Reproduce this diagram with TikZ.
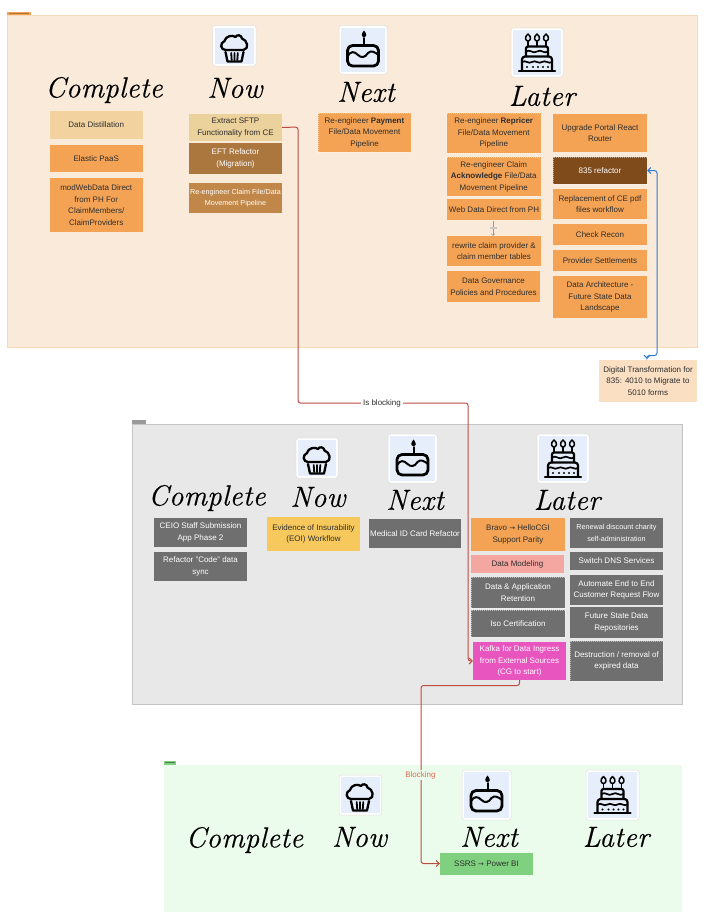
\documentclass[tikz,border=0pt]{standalone}
\usepackage{fontspec}
\setmainfont{Liberation Sans}
\newfontfamily\handfont[LetterSpace=1,FakeBold=0.4]{Latin Modern Roman}
\newfontfamily\symfont{DejaVu Sans}
\usetikzlibrary{arrows.meta}
\definecolor{frameA}{HTML}{FAEAD9}\definecolor{frameAb}{HTML}{F6D9B8}
\definecolor{frameB}{HTML}{E8E8E8}\definecolor{frameBb}{HTML}{C4C4C4}
\definecolor{frameC}{HTML}{ECFCEC}
\definecolor{orangeb}{HTML}{F4A355}\definecolor{sand}{HTML}{F2D3A0}\definecolor{sandb}{HTML}{EBD19B}
\definecolor{brownA}{HTML}{AB773F}\definecolor{brownB}{HTML}{C08748}\definecolor{brownC}{HTML}{7F4B1B}
\definecolor{peach}{HTML}{FADFC3}\definecolor{grayb}{HTML}{6F6F6F}\definecolor{yellowb}{HTML}{F7C95C}
\definecolor{pinkb}{HTML}{F4A6A0}\definecolor{magb}{HTML}{E855BE}\definecolor{greenb}{HTML}{7FD17F}
\definecolor{redline}{HTML}{BE4B40}\definecolor{blueline}{HTML}{2F7CD6}\definecolor{iconbg}{HTML}{E6EEFC}
\definecolor{ink}{HTML}{2E2E2E}\definecolor{blockt}{HTML}{E0694A}
\tikzset{
  x=1pt,y=-1pt,
  >={Straight Barb[length=3.2pt,width=6pt]},
  card/.style={rectangle,minimum width=0pt,inner sep=0pt,font=\fontsize{8}{11.5}\selectfont,align=center,text=ink},
  hand/.style={inner sep=0pt,text=black,font=\handfont\itshape\fontsize{29}{29}\selectfont},
  frame/.style={line width=.6pt},
  link/.style={redline,line width=1pt,rounded corners=2.5pt},
  bluelink/.style={blueline,line width=1pt,rounded corners=2.5pt},
  icn/.style={line width=2pt,black,line join=round,line cap=round},
}
% box: name, x0, y0, x1, y1, fill, text colour, text
\newcommand{\bx}[8]{\path[fill=#6] (#2,#3) rectangle (#4,#5);
  \node[card,text=#7] (#1) at ({(#2+#4)/2},{(#3+#5)/2}) {#8};
  \coordinate (#1-r) at (#4,{(#3+#5)/2});\coordinate (#1-l) at (#2,{(#3+#5)/2});
  \coordinate (#1-t) at ({(#2+#4)/2},#3);\coordinate (#1-b) at ({(#2+#4)/2},#5);}
\newcommand{\dbx}[8]{\bx{#1}{#2}{#3}{#4}{#5}{#6}{#7}{#8}
  \draw[white,opacity=.5,line width=.5pt,dash pattern=on 1pt off 1pt] (#2,#3) rectangle (#4,#5);}
\newcommand{\arr}{{\symfont\fontsize{7}{11.5}\selectfont →}}
\newcommand{\sm}{\fontsize{7.2}{10.4}\selectfont}
% icon frame: x0,y0,x1,y1
\newcommand{\iconframe}[4]{\path[fill=white,draw=black!12,line width=.5pt,rounded corners=2.5pt] (#1,#2) rectangle (#3,#4);
  \path[fill=iconbg] ({#1+2},{#2+2}) rectangle ({#3-2},{#4-2});}
% cupcake centred at (#1,#2), scale #3
\newcommand{\cupcake}[3]{\begin{scope}[shift={(#1,#2)},scale=#3]
  \draw[icn,line width=2.3pt] (-9,4) .. controls (-14,4) and (-15,-3) .. (-10,-5) .. controls (-9,-10) and (-2,-11.5) .. (1,-9) .. controls (2,-11.5) and (7,-11.5) .. (7.5,-7.5) .. controls (13,-6) and (15,3) .. (9,4) -- cycle;
  \draw[icn,line width=2.3pt] (-9,6) -- (-7,15.5) -- (7,15.5) -- (9,6);
  \draw[icn,line width=1.8pt] (-3.3,7) -- (-2.8,14) (0,7) -- (0,14) (3.3,7) -- (2.8,14);
\end{scope}}
% one-candle cake
\newcommand{\cakeone}[3]{\begin{scope}[shift={(#1,#2)},scale=#3]
  \draw[icn,line width=2.8pt,rounded corners=5pt] (-15.5,16) -- (-15.5,-4.5) -- (15.5,-4.5) -- (15.5,16) -- cycle;
  \draw[icn,line width=2pt] (-15.5,6) .. controls (-12,1) and (-9,1) .. (-5,5) .. controls (-2,8) and (2,8) .. (5,3) .. controls (8,0) and (12,2) .. (15.5,5);
  \draw[icn,line width=2pt] (1,-4) -- (1,-12);
  \fill[black] (1,-19.5) .. controls (-2.5,-15.5) and (-1.5,-13) .. (1,-13) .. controls (3.5,-13) and (4.5,-15.5) .. (1,-19.5);
\end{scope}}
% three-candle cake
\newcommand{\cakethree}[3]{\begin{scope}[shift={(#1,#2)},scale=#3]
  \draw[icn,line width=2.2pt] (-18,18.3) -- (18,18.3);
  \draw[icn,line width=2.2pt,rounded corners=3pt] (-15,18) -- (-15,4) -- (15,4) -- (15,18);
  \draw[icn,line width=1.7pt] (-15,9.5) .. controls (-11,7) and (-9,12) .. (-5,9.5) .. controls (-2,7) and (2,12) .. (5,9.5) .. controls (8,7) and (12,12) .. (15,9.5);
  \draw[icn,line width=2.2pt,rounded corners=2pt] (-11,4) -- (-11,-6) -- (11,-6) -- (11,4);
  \draw[icn,line width=1.7pt] (-11,-1) .. controls (-7,-4) and (-4,2) .. (0,-1) .. controls (4,-4) and (7,2) .. (11,-1);
  \fill[black] (-10,14.5) circle(1.1) (-4,14.5) circle(1.1) (1,14.5) circle(1.1) (6,14.5) circle(1.1) (11,14.5) circle(1.1);
  \foreach \c in {-9,0,9}{
    \draw[icn,line width=1.7pt] (\c,-6) -- (\c,-11);
    \draw[icn,line width=1.5pt] (\c,-18.5) .. controls ({\c-4},-15.5) and ({\c-2.5},-11.5) .. (\c,-11.5) .. controls ({\c+2.5},-11.5) and ({\c+4},-15.5) .. (\c,-18.5);}
\end{scope}}
\begin{document}
\begin{tikzpicture}
\useasboundingbox (0,0) rectangle (718,918);
\path[fill=white] (0,0) rectangle (718,918);
% frames
\path[fill=orangeb] (7,11.5) rectangle (30.5,15);
\path[fill=orangeb!70!black] (8.5,12.8) rectangle (29,13.8);
\path[fill=frameA,draw=frameAb,frame] (7.5,15) rectangle (697,347);
\path[fill=grayb!70] (132,420) rectangle (146,424);
\path[fill=frameB,draw=frameBb,frame] (132,424) rectangle (682,704);
\path[fill=greenb] (164,760.5) rectangle (176,764.5);
\path[fill=greenb!60!black] (165,762) rectangle (175,763);
\path[fill=frameC] (164,764.5) rectangle (682,912);
% section 1 header
\iconframe{212.5}{25.5}{256}{66}\cupcake{234.5}{46}{1}
\iconframe{339}{25.5}{387}{74}\cakeone{363}{50}{1}
\iconframe{511}{28}{563}{77}\cakethree{537}{52.5}{1}
\node[hand] (t1c) at (104,90) {Complete};
\node[hand] (t1w) at (235,88) {Now};
\node[hand] (t1n) at (366,92) {Next};
\node[hand] (t1l) at (542,96) {Later};
% section 1 boxes
\bx{dd}{49.5}{111}{143}{139}{sand}{ink}{Data Distillation}
\bx{ep}{49.5}{145}{143}{172}{orangeb}{ink}{Elastic PaaS}
\bx{mw}{49.5}{178}{143}{232}{orangeb}{ink}{modWebData Direct\\from PH For\\ClaimMembers/\\ClaimProviders}
\bx{sf}{189}{114}{282}{141}{sandb}{ink}{Extract SFTP\\Functionality from CE}
\bx{ef}{189}{143}{282}{174}{brownA}{white}{EFT Refactor\\(Migration)}
\bx{rc}{189}{183}{282}{213}{brownB}{white}{\sm Re-engineer Claim File/Data\\\sm Movement Pipeline}
\dbx{pa}{318}{113}{411}{152}{orangeb}{ink}{Re-engineer \textbf{Payment}\\File/Data Movement\\Pipeline}
\dbx{rp}{446.5}{113}{541}{153}{orangeb}{ink}{Re-engineer \textbf{Repricer}\\File/Data Movement\\Pipeline}
\dbx{ca}{446.5}{157}{541}{196}{orangeb}{ink}{Re-engineer Claim\\\textbf{Acknowledge} File/Data\\Movement Pipeline}
\bx{wd}{447}{199}{541}{220}{orangeb}{ink}{Web Data Direct from PH}
\bx{rw}{447}{236}{541}{266}{orangeb}{ink}{rewrite claim provider \&\\claim member tables}
\bx{dg}{447}{271}{540}{302}{orangeb}{ink}{Data Governance\\Policies and Procedures}
\bx{up}{553}{114}{647}{152}{orangeb}{ink}{Upgrade Portal React\\Router}
\dbx{rf}{553}{157}{647}{184}{brownC}{white}{835 refactor}
\bx{ce}{553}{189}{647}{219}{orangeb}{ink}{Replacement of CE pdf\\files workflow}
\bx{cr}{553}{224}{647}{245}{orangeb}{ink}{Check Recon}
\bx{ps}{553}{250}{647}{271}{orangeb}{ink}{Provider Settlements}
\bx{da}{553}{276}{647}{318}{orangeb}{ink}{Data Architecture -\\Future State Data\\Landscape}
\bx{dt}{599}{360}{697}{402}{peach}{ink}{Digital Transformation for\\835: 4010 to Migrate to\\5010 forms}
% section 2
\iconframe{296}{438}{338}{478}\cupcake{317}{458}{1}
\iconframe{388}{434}{437}{483}\cakeone{412.5}{459}{1}
\iconframe{537}{434}{589}{483}\cakethree{563}{458.5}{1}
\node[hand] (t2c) at (207,498) {Complete};
\node[hand] (t2w) at (318,497) {Now};
\node[hand] (t2n) at (415,500) {Next};
\node[hand] (t2l) at (567,500) {Later};
\bx{ce1}{154}{518}{247}{547}{grayb}{white}{CEIO Staff Submission\\App Phase 2}
\bx{rcd}{154}{552}{247}{581}{grayb}{white}{Refactor "Code" data\\sync}
\bx{eo}{267}{517}{360}{551}{yellowb}{ink}{Evidence of Insurability\\(EOI) Workflow}
\bx{mi}{369}{519}{461}{548}{grayb}{white}{Medical ID Card Refactor}
\bx{br}{471}{518}{565}{551}{orangeb}{ink}{Bravo \arr{} HelloCGI\\Support Parity}
\bx{dm}{471}{555}{564}{573}{pinkb}{ink}{Data Modeling}
\dbx{ar}{471}{577}{565}{608}{grayb}{white}{Data \& Application\\Retention}
\dbx{is}{471}{610}{565}{637}{grayb}{white}{Iso Certification}
\bx{ka}{473}{642}{566}{680}{magb}{white}{Kafka for Data Ingress\\from External Sources\\(CG to start)}
\bx{rn}{570}{518}{663}{548}{grayb}{white}{\sm Renewal discount charity\\\sm self-administration}
\bx{sw}{570}{552}{663}{570}{grayb}{white}{Switch DNS Services}
\bx{au}{570}{575}{663}{605}{grayb}{white}{Automate End to End\\Customer Request Flow}
\bx{fu}{570}{607}{663}{638}{grayb}{white}{Future State Data\\Repositories}
\dbx{de}{570}{641}{663}{681}{grayb}{white}{Destruction / removal of\\expired data}
% section 3
\iconframe{339}{775}{381.5}{815}\cupcake{360}{795}{1}
\iconframe{462}{770}{511}{820}\cakeone{486.5}{795}{1}
\iconframe{586}{770}{639}{820}\cakethree{612.5}{795}{1}
\node[hand] (t3c) at (244.5,840) {Complete};
\node[hand] (t3w) at (359.5,837) {Now};
\node[hand] (t3n) at (489,837) {Next};
\node[hand] (t3l) at (616,837) {Later};
\bx{ss}{440}{853}{533}{874.5}{greenb}{ink}{SSRS \arr{} Power BI}
% connectors
\coordinate (wsrc) at (493,221);
\draw[black!40,line width=.5pt,-{Straight Barb[length=2pt,width=3.5pt]}] (wsrc) -- (wsrc |- rw-t);
\path[fill=black!22] (489.5,227.4) rectangle (496.5,228.8);
\coordinate (j1a) at (298,127); \coordinate (j1b) at (298,403); \coordinate (j1c) at (468,403); \coordinate (j1d) at (468,661);
\draw[link,->] (sf-r) -- (j1a) -- (j1b) -- (j1c) -- (j1d) -- (ka-l |- j1d);
\node[fill=white,inner sep=2.5pt,text=ink,font=\fontsize{8}{9}\selectfont] (lb1) at (382,403) {Is blocking};
\coordinate (j2a) at (519.5,685.5); \coordinate (j2b) at (421,685.5); \coordinate (j2c) at (421,863.5);
\draw[link,->] (ka-b) -- (j2a) -- (j2b) -- (j2c) -- (ss-l |- j2c);
\node[fill=frameC,inner sep=1.5pt,text=blockt,font=\fontsize{8}{9}\selectfont] (lb2) at (420.5,775) {Blocking};
\coordinate (j3a) at (657,170.5); \coordinate (j3b) at (657,355.5); \coordinate (j3c) at (647,355.5); \coordinate (j3d) at (647,359);
\draw[bluelink,<->] (rf-r) -- (j3a) -- (j3b) -- (j3c) -- (j3d);
\end{tikzpicture}
\end{document}
